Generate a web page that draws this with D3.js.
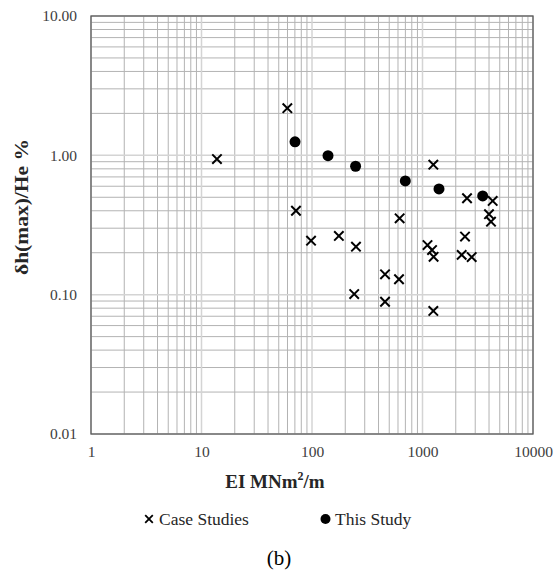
<!DOCTYPE html>
<html>
<head>
<meta charset="utf-8">
<script src="https://cdn.jsdelivr.net/npm/d3@7"></script>
<style>
body { margin: 0; background: #fff; }
svg text { font-family: "Liberation Serif", "DejaVu Serif", "Times New Roman", serif; }
</style>
</head>
<body>
<div id="chart"></div>
<script>
// EI (MNm2/m) vs deflection ratio dh(max)/He (%)
var caseEI   = [13.8, 59.8, 71.6, 98, 175, 250, 621, 1253, 1110, 1220, 1260, 2425, 2529, 4316, 3997, 4168, 2262, 2787, 458, 613, 241, 458, 1253];
var caseDef  = [0.94, 2.18, 0.40, 0.244, 0.264, 0.221, 0.353, 0.857, 0.227, 0.209, 0.187, 0.261, 0.492, 0.471, 0.378, 0.334, 0.193, 0.186, 0.140, 0.129, 0.101, 0.089, 0.0764];
var studyEI  = [70.2, 139.6, 248, 699, 1410, 3505];
var studyDef = [1.25, 0.995, 0.835, 0.655, 0.574, 0.511];

var xTicks = [1, 10, 100, 1000, 10000];
var yTicks = [0.01, 0.1, 1, 10];

var SERIF = '"Liberation Serif", "DejaVu Serif", "Times New Roman", serif';

var width = 553, height = 575;
var margin = {left: 91, top: 16, right: 20, bottom: 141};

var svg = d3.select("#chart").append("svg")
    .attr("width", width)
    .attr("height", height)
    .style("font-family", SERIF);

var x = d3.scaleLog().domain([1, 10000]).range([margin.left, width - margin.right]);
var y = d3.scaleLog().domain([0.01, 10]).range([height - margin.bottom, margin.top]);

// minor gridlines (2..9 of every decade)
var xMinor = [], yMinor = [];
xTicks.slice(0, -1).forEach(function(d) { for (var k = 2; k <= 9; k++) xMinor.push(d * k); });
yTicks.slice(0, -1).forEach(function(d) { for (var k = 2; k <= 9; k++) yMinor.push(d * k); });

var grid = svg.append("g");
grid.selectAll(".vx").data(xMinor).enter().append("line")
    .attr("x1", function(d) { return x(d); }).attr("x2", function(d) { return x(d); })
    .attr("y1", y(10)).attr("y2", y(0.01))
    .attr("stroke", "#b3b3b3").attr("stroke-width", 1);
grid.selectAll(".hy").data(yMinor).enter().append("line")
    .attr("y1", function(d) { return y(d); }).attr("y2", function(d) { return y(d); })
    .attr("x1", x(1)).attr("x2", x(10000))
    .attr("stroke", "#b3b3b3").attr("stroke-width", 1);
grid.selectAll(".vmaj").data(xTicks).enter().append("line")
    .attr("x1", function(d) { return x(d); }).attr("x2", function(d) { return x(d); })
    .attr("y1", y(10)).attr("y2", y(0.01))
    .attr("stroke", "#d4d4d4").attr("stroke-width", 1.5);
grid.selectAll(".hmaj").data(yTicks).enter().append("line")
    .attr("y1", function(d) { return y(d); }).attr("y2", function(d) { return y(d); })
    .attr("x1", x(1)).attr("x2", x(10000))
    .attr("stroke", "#d4d4d4").attr("stroke-width", 1.5);

// plot border
svg.append("rect")
    .attr("x", x(1)).attr("y", y(10))
    .attr("width", x(10000) - x(1)).attr("height", y(0.01) - y(10))
    .attr("fill", "none").attr("stroke", "#595959").attr("stroke-width", 1.3);

// axes (labels only)
var xAxis = svg.append("g")
    .attr("transform", "translate(0," + y(0.01) + ")")
    .call(d3.axisBottom(x).tickValues(xTicks).tickFormat(d3.format("d")).tickSize(0).tickPadding(12));
var yAxis = svg.append("g")
    .attr("transform", "translate(" + x(1) + ",0)")
    .call(d3.axisLeft(y).tickValues(yTicks).tickFormat(d3.format(".2f")).tickSize(0).tickPadding(14));
[xAxis, yAxis].forEach(function(a) {
    a.attr("font-family", null).attr("font-size", null);
    a.select(".domain").remove();
    a.selectAll("text")
	.style("font-family", SERIF)
	.style("font-size", "15.5px")
	.attr("fill", "#404040");
});

// axis titles
var xt = svg.append("text")
    .attr("x", 275).attr("y", 488)
    .attr("text-anchor", "middle")
    .style("font-size", "19px").attr("font-weight", "bold").attr("fill", "#262626");
xt.append("tspan").text("EI MNm");
xt.append("tspan").style("font-size", "12px").attr("dy", -8).text("2");
xt.append("tspan").attr("dy", 8).text("/m");

svg.append("text")
    .attr("transform", "translate(28,207) rotate(-90)")
    .attr("text-anchor", "middle")
    .attr("textLength", 136).attr("lengthAdjust", "spacingAndGlyphs")
    .style("font-size", "19px").attr("font-weight", "bold").attr("fill", "#262626")
    .text("δh(max)/He %");

// data points
var crossPath = "M-4.7,-4.7L4.7,4.7M-4.7,4.7L4.7,-4.7";
svg.append("g").selectAll("path").data(caseEI).enter().append("path")
    .attr("d", crossPath)
    .attr("transform", function(d, i) { return "translate(" + x(d) + "," + y(caseDef[i]) + ")"; })
    .attr("stroke", "#000").attr("stroke-width", 2).attr("fill", "none");

svg.append("g").selectAll("circle").data(studyEI).enter().append("circle")
    .attr("cx", function(d) { return x(d); })
    .attr("cy", function(d, i) { return y(studyDef[i]); })
    .attr("r", 5.5)
    .attr("fill", "#000");

// legend
var leg = svg.append("g");
leg.append("path").attr("d", "M-3.8,-3.8L3.8,3.8M-3.8,3.8L3.8,-3.8")
    .attr("transform", "translate(149,519)")
    .attr("stroke", "#000").attr("stroke-width", 1.8);
leg.append("text").attr("x", 159).attr("y", 524.5)
    .style("font-size", "17.5px").attr("fill", "#262626").text("Case Studies");
leg.append("circle").attr("cx", 325.5).attr("cy", 519).attr("r", 5).attr("fill", "#000");
leg.append("text").attr("x", 335).attr("y", 524.5)
    .style("font-size", "17.5px").attr("fill", "#262626").text("This Study");

svg.append("text")
    .attr("x", 279).attr("y", 565)
    .attr("text-anchor", "middle")
    .style("font-size", "21px").attr("fill", "#000")
    .text("(b)");
</script>
</body>
</html>
